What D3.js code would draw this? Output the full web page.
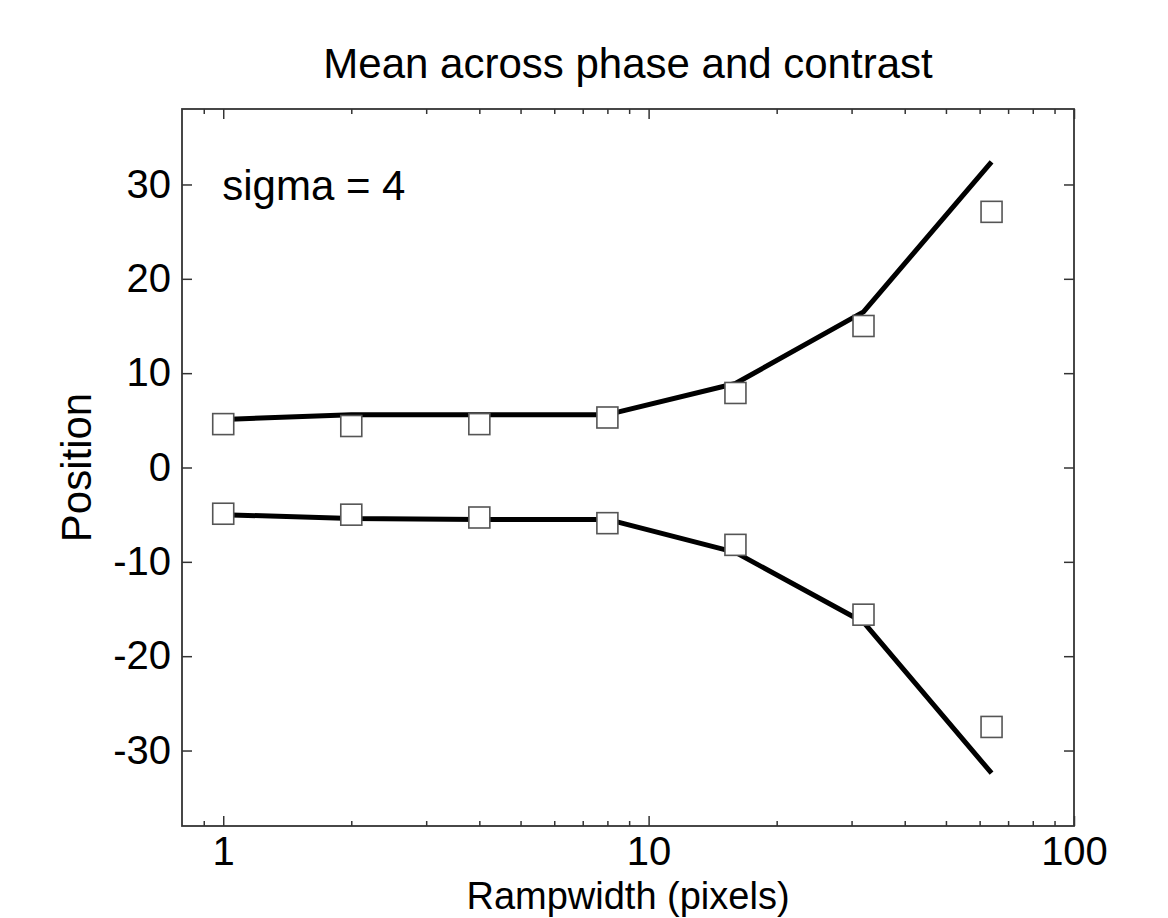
<!DOCTYPE html>
<html>
<head>
<meta charset="utf-8">
<script src="https://cdn.jsdelivr.net/npm/d3@7"></script>
<style>
  html, body { margin: 0; padding: 0; background: #fff; }
  svg text { font-family: "Liberation Sans", Arial, Helvetica, sans-serif; fill: #000; }
</style>
</head>
<body>
<div id="chart"></div>
<script>
// Ramp widths (pixels) and positions
const rampWidths = [1, 2, 4, 8, 16, 32, 64];
const modelUpper = [5.1, 5.6, 5.6, 5.6, 8.9, 16.5, 32.4];
const modelLower = [-5.0, -5.4, -5.5, -5.5, -9.0, -16.4, -32.4];
const dataUpper = [4.6, 4.4, 4.6, 5.3, 7.9, 15.0, 27.1];
const dataLower = [-4.9, -5.0, -5.3, -5.9, -8.2, -15.6, -27.5];

// Tick values
const xMajorTicks = [1, 10, 100];
const xMinorTicks = [0.9, 2, 3, 4, 5, 6, 7, 8, 9, 20, 30, 40, 50, 60, 70, 80, 90];
const yTicks = [-30, -20, -10, 0, 10, 20, 30];

const titleText = "Mean across phase and contrast";
const xLabel = "Rampwidth (pixels)";
const yLabel = "Position";
const noteText = "sigma = 4";

const W = 1168, H = 918;
const plotLeft = 182, plotRight = 1074, plotTop = 109, plotBottom = 826;

const svg = d3.select("#chart").append("svg")
  .attr("width", W)
  .attr("height", H);

const x = d3.scaleLog().domain([0.8, 100]).range([plotLeft, plotRight]);
const y = d3.scaleLinear().domain([-38, 38]).range([plotBottom, plotTop]);

const axisColor = "#333";

function styleAxis(g) {
  g.select(".domain").remove();
  g.selectAll(".tick line").attr("stroke", axisColor).attr("stroke-width", 1.5);
  g.selectAll(".tick text")
    .style("font-family", '"Liberation Sans", Arial, sans-serif')
    .style("font-size", "40px")
    .attr("fill", "#000");
}

// bottom axis (major + minor)
svg.append("g")
  .attr("transform", `translate(0,${plotBottom})`)
  .call(d3.axisBottom(x).tickValues(xMajorTicks).tickFormat((d) => String(d))
    .tickSizeInner(-10).tickSizeOuter(0).tickPadding(11))
  .call(styleAxis);
svg.append("g")
  .attr("transform", `translate(0,${plotBottom})`)
  .call(d3.axisBottom(x).tickValues(xMinorTicks).tickFormat("")
    .tickSizeInner(-5).tickSizeOuter(0))
  .call(styleAxis);

// top axis (mirror, no labels)
svg.append("g")
  .attr("transform", `translate(0,${plotTop})`)
  .call(d3.axisTop(x).tickValues(xMajorTicks).tickFormat("")
    .tickSizeInner(-10).tickSizeOuter(0))
  .call(styleAxis);
svg.append("g")
  .attr("transform", `translate(0,${plotTop})`)
  .call(d3.axisTop(x).tickValues(xMinorTicks).tickFormat("")
    .tickSizeInner(-5).tickSizeOuter(0))
  .call(styleAxis);

// left axis (plain hyphen for negatives, as in the original)
svg.append("g")
  .attr("transform", `translate(${plotLeft},0)`)
  .call(d3.axisLeft(y).tickValues(yTicks).tickFormat((d) => String(d))
    .tickSizeInner(-10).tickSizeOuter(0).tickPadding(11))
  .call(styleAxis);

// right axis (mirror)
svg.append("g")
  .attr("transform", `translate(${plotRight},0)`)
  .call(d3.axisRight(y).tickValues(yTicks).tickFormat("")
    .tickSizeInner(-10).tickSizeOuter(0))
  .call(styleAxis);

// frame
svg.append("rect")
  .attr("x", plotLeft)
  .attr("y", plotTop)
  .attr("width", plotRight - plotLeft)
  .attr("height", plotBottom - plotTop)
  .attr("fill", "none")
  .attr("stroke", axisColor)
  .attr("stroke-width", 1.8);

// model lines
const line = d3.line()
  .x((d) => x(d[0]))
  .y((d) => y(d[1]));

[modelUpper, modelLower].forEach((series) => {
  svg.append("path")
    .datum(rampWidths.map((w, i) => [w, series[i]]))
    .attr("d", line)
    .attr("fill", "none")
    .attr("stroke", "#000")
    .attr("stroke-width", 5)
    .attr("stroke-linejoin", "round");
});

// data markers
const size = 21;
[dataUpper, dataLower].forEach((series) => {
  svg.append("g")
    .selectAll("rect")
    .data(rampWidths.map((w, i) => [w, series[i]]))
    .join("rect")
    .attr("x", (d) => x(d[0]) - size / 2)
    .attr("y", (d) => y(d[1]) - size / 2)
    .attr("width", size)
    .attr("height", size)
    .attr("fill", "#fff")
    .attr("stroke", "#555")
    .attr("stroke-width", 1.6);
});

// title
svg.append("text")
  .attr("x", (plotLeft + plotRight) / 2)
  .attr("y", 78)
  .attr("text-anchor", "middle")
  .style("font-size", "42px")
  .text(titleText);

// x label
svg.append("text")
  .attr("x", (plotLeft + plotRight) / 2)
  .attr("y", 909)
  .attr("text-anchor", "middle")
  .style("font-size", "38px")
  .text(xLabel);

// y label
svg.append("text")
  .attr("transform", `translate(91,${(plotTop + plotBottom) / 2}) rotate(-90)`)
  .attr("text-anchor", "middle")
  .style("font-size", "42px")
  .text(yLabel);

// annotation
svg.append("text")
  .attr("x", x(1) - 1)
  .attr("y", y(28.4))
  .style("font-size", "42px")
  .text(noteText);
</script>
</body>
</html>
